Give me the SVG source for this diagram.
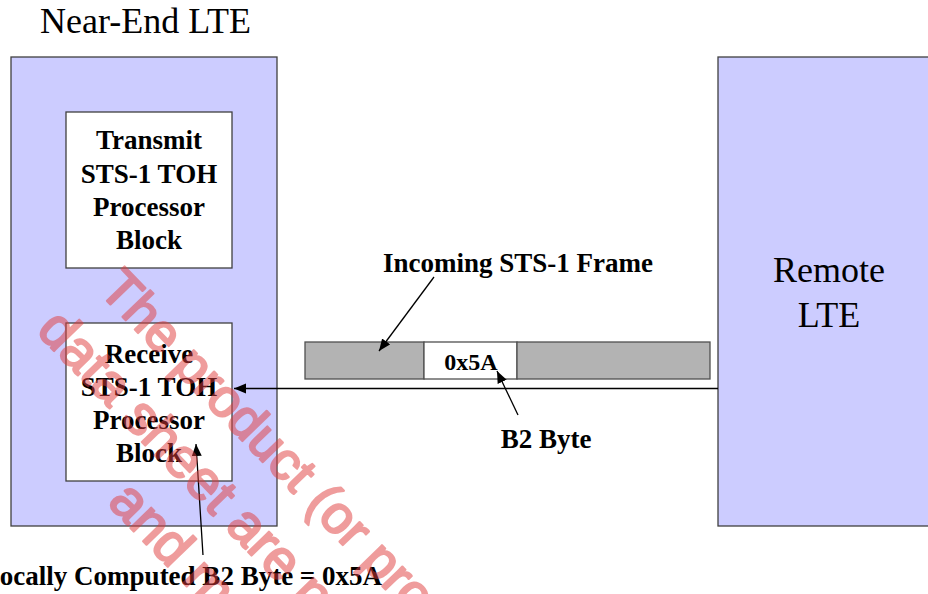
<svg xmlns="http://www.w3.org/2000/svg" width="928" height="594" viewBox="0 0 928 594">
<style>
.lte{fill:#ccccff;stroke:#404040;stroke-width:1.3}
.blk{fill:#ffffff;stroke:#404040;stroke-width:1.3}
.seg{fill:#b3b3b3;stroke:#505050;stroke-width:1.3}
.b2{fill:#ffffff;stroke:#505050;stroke-width:1.3}
.reg{font-family:"Liberation Serif","Times New Roman",serif;font-size:36px;fill:#000}
.bold{font-family:"Liberation Serif","Times New Roman",serif;font-size:27px;font-weight:bold;fill:#000}
.mid{text-anchor:middle}
.conn{stroke:#000;stroke-width:1.3;fill:none;marker-end:url(#ah)}
.wm{font-family:"Liberation Sans",Arial,sans-serif;font-size:55px;fill:#e03c3c;stroke:#e03c3c;stroke-width:2.2;stroke-linejoin:round}
</style>
<defs>
<marker id="ah" markerUnits="userSpaceOnUse" markerWidth="13" markerHeight="11" refX="12" refY="5" orient="auto">
<path d="M0,0 L12,5 L0,10 z" fill="#000"/>
</marker>
</defs>
<rect width="928" height="594" fill="#ffffff"/>
<g id="near-end-lte">
<text class="reg" x="40" y="33">Near-End LTE</text>
<rect class="lte" x="11" y="57" width="266" height="469"/>
</g>
<g id="transmit-block">
<rect class="blk" x="66" y="112" width="166" height="156"/>
<text class="bold mid" x="149" y="149">Transmit</text>
<text class="bold mid" x="149" y="183">STS-1 TOH</text>
<text class="bold mid" x="149" y="216">Processor</text>
<text class="bold mid" x="149" y="249">Block</text>
</g>
<g id="receive-block">
<rect class="blk" x="66" y="323" width="166" height="158"/>
<text class="bold mid" x="149" y="363">Receive</text>
<text class="bold mid" x="149" y="396">STS-1 TOH</text>
<text class="bold mid" x="149" y="429">Processor</text>
<text class="bold mid" x="149" y="462">Block</text>
</g>
<g id="remote-lte">
<rect class="lte" x="718" y="57" width="220" height="469"/>
<text class="reg mid" x="829" y="282">Remote</text>
<text class="reg mid" x="829" y="327">LTE</text>
</g>
<g id="sts1-frame">
<rect class="seg" x="305" y="342" width="119" height="37"/>
<rect class="b2" x="424" y="342" width="93" height="37"/>
<rect class="seg" x="517" y="342" width="193" height="37"/>
<text class="bold mid" x="471" y="370" style="font-size:24px">0x5A</text>
</g>
<g id="labels">
<text class="bold mid" x="518" y="272">Incoming STS-1 Frame</text>
<text class="bold mid" x="546" y="448">B2 Byte</text>
<text class="bold" x="382" y="585" text-anchor="end">Locally Computed B2 Byte = 0x5A</text>
</g>
<g id="connectors">
<line class="conn" x1="718" y1="388.5" x2="234" y2="388.5"/>
<line class="conn" x1="434" y1="277" x2="379" y2="351"/>
<line class="conn" x1="518" y1="415" x2="497" y2="371"/>
<line class="conn" x1="203" y1="555" x2="196" y2="444"/>
</g>
<g id="watermark" transform="rotate(46)" opacity="0.5">
<text class="wm" x="277" y="132" style="font-size:53px">The product (or pro</text>
<text class="wm" x="263" y="205">data sheet are no</text>
<text class="wm" x="436" y="273">and m</text>
</g>
</svg>
